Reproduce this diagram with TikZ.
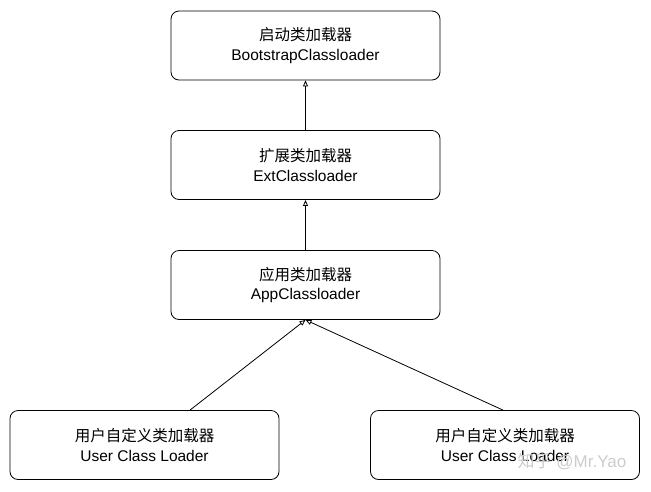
\documentclass[tikz,border=0pt]{standalone}
\usepackage{fontspec}
\setmainfont{Liberation Sans}
\newfontfamily\cjk{Noto Sans CJK SC}
\usetikzlibrary{arrows.meta}
\usetikzlibrary{positioning}

\begin{document}
\begin{tikzpicture}[x=1pt,y=-1pt,
    loader/.style={draw, thick, rounded corners=8pt, minimum width=269pt,
      minimum height=69pt, align=center, font=\fontsize{15.5}{19.5}\selectfont},
    parent/.style={thick, -{Triangle[open,length=6pt,width=5pt]}}]
      % Frame
      \useasboundingbox (0,0) rectangle (651,491);

      % Loaders
      \node[loader] (boot) at (305.5,45.5) {{\cjk 启动类加载器}\\BootstrapClassloader};
      \node[loader] (ext)  at (305.5,165)  {{\cjk 扩展类加载器}\\ExtClassloader};
      \node[loader] (app)  at (305.5,285)  {{\cjk 应用类加载器}\\AppClassloader};
      \node[loader] (userA) at (144.5,445) {{\cjk 用户自定义类加载器}\\User Class Loader};
      \node[loader] (userB) at (505,445)   {{\cjk 用户自定义类加载器}\\User Class Loader};

      % Delegation
      \coordinate (aOut) at ([xshift=45.5pt]userA.north);
      \coordinate (bOut) at ([xshift=-2pt]userB.north);
      \draw[parent] (ext.north) -- (boot.south);
      \draw[parent] (app.north) -- (ext.south);
      \draw[parent] (aOut) -- (app.south);
      \draw[parent] (bOut) -- (app.south);

      % Mark
      \node[text=gray!40, font=\fontsize{17}{17}\selectfont] (mark) at (572,462) {{\cjk 知乎} @Mr.Yao};
\end{tikzpicture}
\end{document}
